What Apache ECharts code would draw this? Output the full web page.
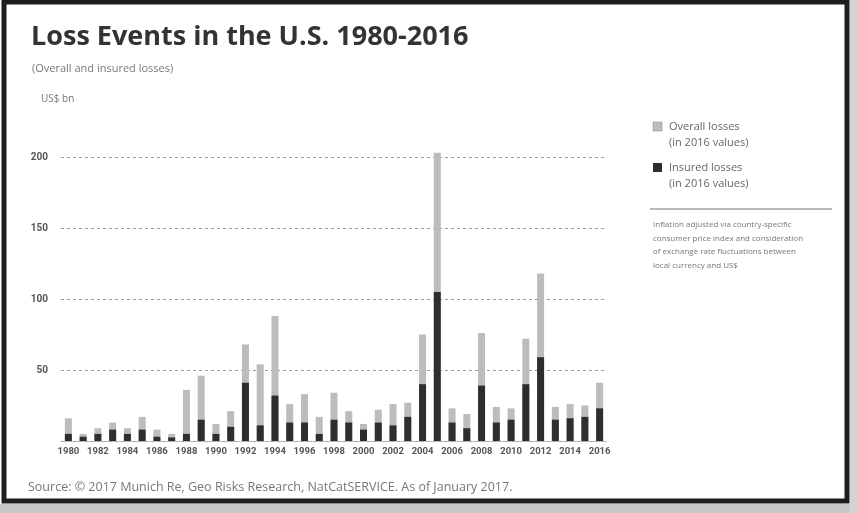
<!DOCTYPE html>
<html>
<head>
<meta charset="utf-8">
<script src="https://cdn.jsdelivr.net/npm/echarts@6/dist/echarts.min.js"></script>
<style>
  html, body { margin: 0; padding: 0; background: #ffffff; }
  #chart { width: 858px; height: 513px; }
</style>
</head>
<body>
<div id="chart"></div>
<script>
// Loss events in the U.S., overall and insured losses (US$ bn, 2016 values)
const years = [];
for (let y = 1980; y <= 2016; y++) years.push(String(y));

const overallLosses = [16, 5, 9, 13, 9, 17, 8, 5, 36, 46, 12, 21, 68, 54, 88, 26, 33, 17, 34, 21,
                       12, 22, 26, 27, 75, 203, 23, 19, 76, 24, 23, 72, 118, 24, 26, 25, 41];
const insuredLosses = [5, 3, 5, 8, 5, 8, 3, 2.5, 5, 15, 5, 10, 41, 11, 32, 13, 13, 5, 15, 13,
                       8, 13, 11, 17, 40, 105, 13, 9, 39, 13, 15, 40, 59, 15, 16, 17, 23];

const yTicks = [0, 50, 100, 150, 200];

const legendNames = ['Overall losses', 'Insured losses'];
const noteLines = [
  'Inflation adjusted via country-specific',
  'consumer price index and consideration',
  'of exchange rate fluctuations between',
  'local currency and US$'
];

const chart = echarts.init(document.getElementById('chart'), null, { renderer: 'canvas' });

const overallColor = '#bcbcbc';
const insuredColor = '#2e2e2e';

chart.setOption({
  backgroundColor: '#ffffff',
  animation: false,
  title: [
    {
      text: 'Loss Events in the U.S. 1980-2016',
      left: 26, top: 19,
      textStyle: { fontFamily: 'Open Sans', fontWeight: 'bold', fontSize: 27, color: '#333333' }
    },
    {
      text: '(Overall and insured losses)',
      left: 27, top: 58,
      textStyle: { fontFamily: 'Open Sans', fontWeight: 'normal', fontSize: 11, color: '#777777' }
    },
    {
      text: 'US$ bn',
      left: 36, top: 89,
      textStyle: { fontFamily: 'Open Sans', fontWeight: 'normal', fontSize: 10, color: '#777777' }
    }
  ],
  grid: { left: 61, right: 251, top: 157, bottom: 72, containLabel: false },
  xAxis: {
    type: 'category',
    data: years,
    boundaryGap: true,
    axisLine: { show: true, lineStyle: { color: '#aaaaaa', width: 1, type: 'dotted' } },
    axisTick: { show: false },
    axisLabel: {
      interval: 1,
      margin: 6,
      fontFamily: 'Roboto',
      fontWeight: 'bold',
      fontSize: 9.5,
      color: '#555555'
    },
    splitLine: { show: false }
  },
  yAxis: {
    type: 'value',
    min: yTicks[0],
    max: yTicks[yTicks.length - 1],
    interval: 50,
    axisLine: { show: false },
    axisTick: { show: false },
    axisLabel: {
      margin: 13,
      fontFamily: 'Roboto',
      fontWeight: 'bold',
      fontSize: 10,
      color: '#555555',
      formatter: function (v) { return v === 0 ? '' : String(v); }
    },
    splitLine: { show: true, lineStyle: { color: '#9a9a9a', type: [3, 3], width: 1 } }
  },
  series: [
    {
      name: legendNames[0],
      type: 'bar',
      data: overallLosses,
      barWidth: 7,
      barGap: '-100%',
      clip: false,
      itemStyle: { color: overallColor },
      z: 2
    },
    {
      name: legendNames[1],
      type: 'bar',
      data: insuredLosses,
      barWidth: 7,
      barGap: '-100%',
      clip: false,
      itemStyle: { color: insuredColor },
      z: 3
    }
  ],
  graphic: [
    // frame
    { type: 'rect', shape: { x: 4, y: 2, width: 843, height: 499 }, style: { fill: 'none', stroke: '#1e1e1e', lineWidth: 5 }, silent: true },
    { type: 'rect', shape: { x: 0, y: 504, width: 858, height: 9 }, style: { fill: '#c8c8c8' }, silent: true },
    { type: 'rect', shape: { x: 850, y: 0, width: 8, height: 513 }, style: { fill: '#d4d4d4' }, silent: true },
    // legend
    { type: 'rect', shape: { x: 653, y: 122, width: 9, height: 9 }, style: { fill: overallColor, stroke: '#888', lineWidth: 0.5 } },
    { type: 'text', left: 669, top: 121, style: { text: legendNames[0], font: '11px "Open Sans"', fill: '#666666' } },
    { type: 'text', left: 669, top: 137, style: { text: '(in 2016 values)', font: '11px "Open Sans"', fill: '#666666' } },
    { type: 'rect', shape: { x: 653, y: 163, width: 9, height: 9 }, style: { fill: insuredColor } },
    { type: 'text', left: 669, top: 162, style: { text: legendNames[1], font: '11px "Open Sans"', fill: '#666666' } },
    { type: 'text', left: 669, top: 178, style: { text: '(in 2016 values)', font: '11px "Open Sans"', fill: '#666666' } },
    { type: 'line', shape: { x1: 650, y1: 209, x2: 832, y2: 209 }, style: { stroke: '#777777', lineWidth: 1 } },
    { type: 'text', left: 653, top: 218, style: { text: noteLines.join('\n'), font: '8px "Open Sans"', lineHeight: 13.5, fill: '#777777' } },
    // source
    { type: 'text', left: 28, top: 481, style: { text: 'Source: \u00a9 2017 Munich Re, Geo Risks Research, NatCatSERVICE. As of January 2017.', font: '12.5px "Open Sans"', fill: '#777777' } }
  ]
});
</script>
</body>
</html>
